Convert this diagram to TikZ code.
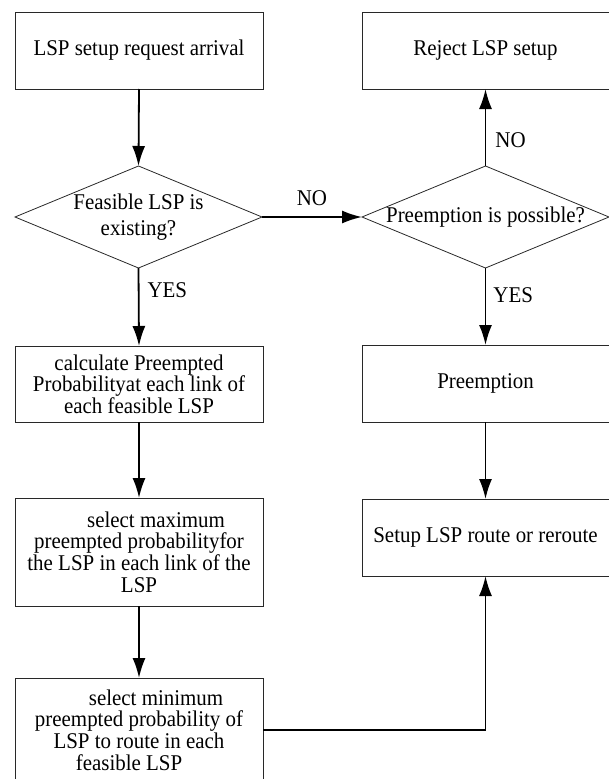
\documentclass[tikz,border=0pt]{standalone}
\usepackage{fontspec}
\setmainfont{Liberation Serif}[FakeStretch=0.93]
\usepackage{tikz}
\usetikzlibrary{shapes.geometric, arrows.meta}
\definecolor{boxink}{RGB}{40, 40, 40}

\begin{document}
\begin{tikzpicture}[x=1pt, y=-1pt,
    txt/.style={font=\fontsize{22.5}{21.7}\selectfont, align=center},
    stepbox/.style={draw=boxink, line width=0.8pt, rectangle, inner sep=0pt, outer sep=0pt,
      minimum width=248pt, txt},
    decision/.style={draw=boxink, line width=0.8pt, diamond, inner sep=0pt, outer sep=0pt,
      minimum width=247pt, minimum height=102pt},
    flow/.style={line width=1.8pt, -{Latex[length=20pt, width=13pt]}},
    answer/.style={txt, inner sep=2pt}]
  \useasboundingbox (0,0) rectangle (609,779);
  \clip (0,0) rectangle (609,779);
  % left column
  \node[stepbox, minimum height=77pt] (start) at (139,50.5) {LSP setup request arrival};
  \node[decision, label={[txt, font=\fontsize{22.5}{26}\selectfont]center:Feasible LSP is\\existing?}] (feas) at (138.5,217) {};
  \node[stepbox, minimum height=76pt] (calc) at (139,384)
    {calculate Preempted\\Probabilityat each link of\\each feasible LSP};
  \node[stepbox, minimum height=108pt] (maxp) at (139,552)
    {\hspace*{34pt}select maximum\\preempted probabilityfor\\the LSP in each link of the\\LSP};
  \node[stepbox, minimum height=104pt] (minp) at (139,730)
    {\hspace*{34pt}select minimum\\preempted probability of\\LSP to route in each\\feasible LSP\hspace*{20pt}};
  % right column
  \node[stepbox, minimum width=247pt, minimum height=77pt] (reject) at (485.5,50.5) {Reject LSP setup};
  \node[decision, label={[txt]center:Preemption is possible?}] (poss) at (485.5,217) {};
  \node[stepbox, minimum width=247pt, minimum height=77pt] (preempt) at (485.5,383.5) {Preemption};
  \node[stepbox, minimum width=247pt, minimum height=77pt] (setup) at (485.5,537.5) {Setup LSP route or reroute};
  % connectors
  \draw[flow] (start.south) -- (feas.north);
  \draw[flow] (feas.east) -- node[answer, midway, above=8pt] {NO} (poss.west);
  \draw[flow] (feas.south) -- node[answer, pos=0.29, right=6pt] {YES} (calc.north);
  \draw[flow] (calc.south) -- (maxp.north);
  \draw[flow] (maxp.south) -- (minp.north);
  \draw[flow] (poss.north) -- node[answer, pos=0.34, right=7pt] {NO} (reject.south);
  \draw[flow] (poss.south) -- node[answer, pos=0.35, right=5pt] {YES} (preempt.north);
  \draw[flow] (preempt.south) -- (setup.north);
  \draw[flow] (minp.east) -| (setup.south);
\end{tikzpicture}
\end{document}
